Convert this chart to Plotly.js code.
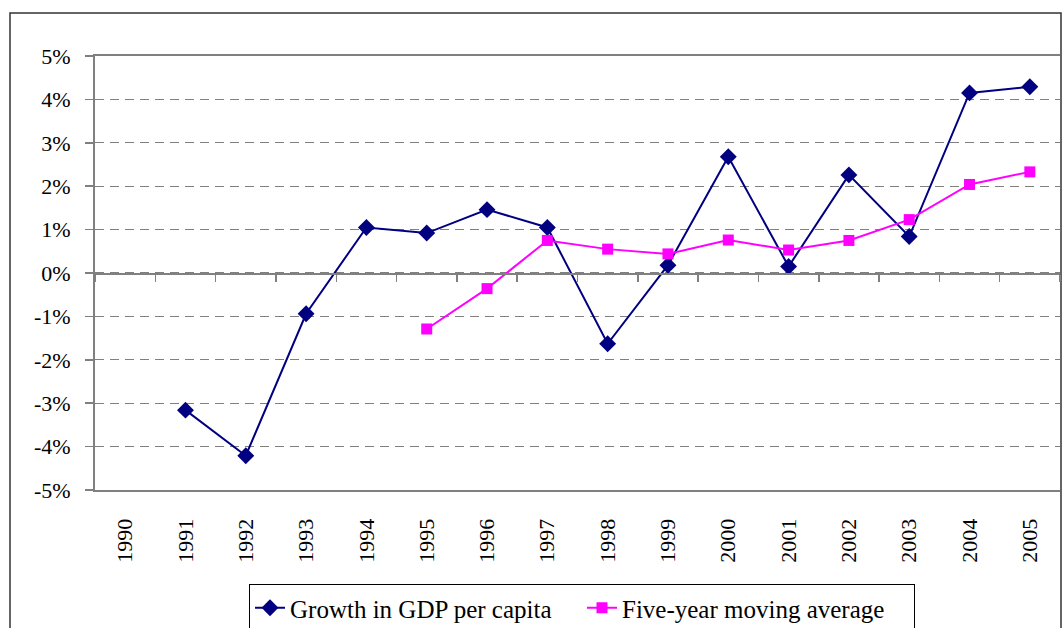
<!DOCTYPE html>
<html>
<head>
<meta charset="utf-8">
<script src="https://cdn.plot.ly/plotly-3.0.1.min.js"></script>
<style>
html,body{margin:0;padding:0;background:#fff;}
#chart{width:1064px;height:628px;}
#chart text, #chart tspan{font-family:'Liberation Serif','DejaVu Serif',serif !important;}
</style>
</head>
<body>
<div id="chart"></div>
<script>
// Data (values in percent)
const years = [1990,1991,1992,1993,1994,1995,1996,1997,1998,1999,2000,2001,2002,2003,2004,2005];
const gdpGrowth = [null,-3.16,-4.21,-0.94,1.05,0.92,1.46,1.05,-1.63,0.18,2.68,0.15,2.26,0.84,4.15,4.29];
const movingAvg = [null,null,null,null,null,-1.29,-0.36,0.75,0.55,0.44,0.76,0.53,0.75,1.23,2.04,2.33];
const yTickVals = [-5,-4,-3,-2,-1,0,1,2,3,4,5];
const yTickText = ['-5%','-4%','-3%','-2%','-1%','0%','1%','2%','3%','4%','5%'];
const xTickText = years.map(String);
const boundaries = [1989.5,1990.5,1991.5,1992.5,1993.5,1994.5,1995.5,1996.5,1997.5,1998.5,1999.5,2000.5,2001.5,2002.5,2003.5,2004.5,2005.5];

const grey = '#808080';

const traces = [
  {
    x: years, y: gdpGrowth, name: 'Growth in GDP per capita',
    type: 'scatter', mode: 'lines+markers', connectgaps: false,
    line: {color: '#000080', width: 2},
    marker: {symbol: 'diamond', size: 13, color: '#000080'},
    xaxis: 'x', yaxis: 'y'
  },
  {
    x: years, y: movingAvg, name: 'Five-year moving average',
    type: 'scatter', mode: 'lines+markers', connectgaps: false,
    line: {color: '#FF00FF', width: 2},
    marker: {symbol: 'square', size: 11, color: '#FF00FF'},
    xaxis: 'x2', yaxis: 'y'
  }
];

const layout = {
  width: 1064, height: 628,
  margin: {l: 95, r: 4, t: 56, b: 138, pad: 0},
  paper_bgcolor: 'white', plot_bgcolor: 'white',
  font: {family: 'Liberation Serif', size: 22, color: 'black'},
  showlegend: true,
  xaxis: {
    range: [1989.5, 2005.5], automargin: false,
    tickmode: 'array', tickvals: years, ticktext: xTickText,
    tickangle: -90, ticks: '', ticklabelstandoff: 18,
    showgrid: false, zeroline: false,
    showline: true, mirror: true, linecolor: grey, linewidth: 2
  },
  xaxis2: {
    overlaying: 'x', anchor: 'free', position: (490-274)/434, automargin: false,
    range: [1989.5, 2005.5],
    tickmode: 'array', tickvals: boundaries,
    ticks: 'outside', ticklen: 7, tickwidth: 1.5, tickcolor: grey,
    showticklabels: false, showgrid: false, zeroline: false,
    showline: true, linecolor: grey, linewidth: 2
  },
  yaxis: {
    range: [-5, 5], automargin: false,
    tickmode: 'array', tickvals: yTickVals, ticktext: yTickText,
    ticks: 'outside', ticklen: 8, tickwidth: 1.5, tickcolor: grey,
    ticklabelstandoff: 10,
    showgrid: true, gridcolor: grey, gridwidth: 1.3, griddash: '9px,6px',
    zeroline: false,
    showline: true, linecolor: grey, linewidth: 2
  },
  legend: {
    orientation: 'h', x: (249-95)/965, xanchor: 'left',
    yref: 'container', y: 1 - 584/628, yanchor: 'top',
    bordercolor: 'black', borderwidth: 1, bgcolor: 'white',
    font: {size: 25},
    entrywidth: 287, entrywidthmode: 'pixels',
    tracegroupgap: 0
  },
  shapes: [
    {type: 'rect', xref: 'paper', yref: 'paper',
     x0: (10-95)/965, x1: (1061-95)/965, y0: (490-660)/434, y1: (490-13)/434,
     line: {color: '#333333', width: 1.5}, fillcolor: 'rgba(0,0,0,0)', layer: 'below'}
  ]
};

Plotly.newPlot('chart', traces, layout, {staticPlot: true});
</script>
</body>
</html>
